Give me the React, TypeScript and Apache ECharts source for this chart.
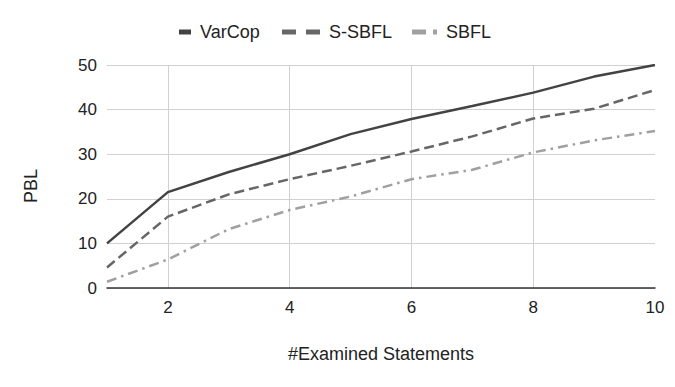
import React, { useEffect, useRef } from "react";
import * as echarts from "echarts";

const categories = ["1", "2", "3", "4", "5", "6", "7", "8", "9", "10"];
const varCop = [10, 21.5, 26, 30, 34.5, 37.9, 40.8, 43.8, 47.4, 50];
const sSbfl = [4.6, 16, 21, 24.4, 27.4, 30.6, 34, 38, 40.2, 44.4];
const sbfl = [1.4, 6.4, 13.2, 17.5, 20.5, 24.4, 26.5, 30.4, 33.1, 35.2];
const yTicks = { min: 0, max: 50, interval: 10 };

const FONT = "'Liberation Sans', Arial, sans-serif";
const C1 = "#434343";
const C2 = "#666666";
const C3 = "#a0a0a0";

export default function App() {
  const ref = useRef<HTMLDivElement>(null);
  useEffect(() => {
    if (!ref.current) return;
    const chart = echarts.init(ref.current, null, { renderer: "svg" });
    const legendText = { fontFamily: FONT, fontSize: 18, color: "#222", padding: [0, 0, 0, 4] };
    const legendBase = {
      top: 23, itemHeight: 5, padding: 0,
      symbolKeepAspect: false, selectedMode: false, textStyle: legendText,
    };
    chart.setOption({
      animation: false,
      backgroundColor: "#ffffff",
      textStyle: { fontFamily: FONT },
      legend: [
        {
          ...legendBase,
          data: [{ name: "VarCop", icon: "path://M0,0H12V5H0Z" }],
          left: 179, itemWidth: 12,
        },
        {
          ...legendBase,
          data: [{ name: "S-SBFL", icon: "path://M0,0H14V5H0Z M24,0H38V5H24Z" }],
          left: 282, itemWidth: 38,
        },
        {
          ...legendBase,
          data: [{ name: "SBFL", icon: "path://M0,0H14V5H0Z M21,0H25V5H21Z" }],
          left: 412, itemWidth: 25,
        },
      ],
      grid: { left: 107, right: 20, top: 65, bottom: 99, containLabel: false },
      xAxis: {
        type: "category",
        data: categories,
        boundaryGap: false,
        name: "#Examined Statements",
        nameLocation: "middle",
        nameGap: 57,
        nameTextStyle: { fontFamily: FONT, fontSize: 18, color: "#222" },
        axisLine: { show: true, lineStyle: { color: "#333", width: 1.5 } },
        axisTick: { show: false },
        axisLabel: {
          interval: (i: number) => i % 2 === 1,
          margin: 11,
          fontFamily: FONT,
          fontSize: 17,
          color: "#222",
        },
        splitLine: {
          show: true,
          interval: (i: number) => i % 2 === 1 && i < 9,
          lineStyle: { color: "#d0d0d0", width: 1 },
        },
      },
      yAxis: {
        type: "value",
        min: yTicks.min,
        max: yTicks.max,
        interval: yTicks.interval,
        name: "PBL",
        nameLocation: "middle",
        nameGap: 67,
        nameTextStyle: { fontFamily: FONT, fontSize: 18, color: "#222", padding: [0, 19, 0, 0] },
        axisLine: { show: false },
        axisTick: { show: false },
        axisLabel: { margin: 10, fontFamily: FONT, fontSize: 17, color: "#222" },
        splitLine: { show: true, lineStyle: { color: "#d0d0d0", width: 1 } },
      },
      series: [
        {
          name: "VarCop", type: "line", data: varCop, showSymbol: false, symbol: "none",
          color: C1, lineStyle: { color: C1, width: 2.5, type: "solid" }, z: 5,
        },
        {
          name: "S-SBFL", type: "line", data: sSbfl, showSymbol: false, symbol: "none",
          color: C2, lineStyle: { color: C2, width: 2.5, type: [10, 5] }, z: 4,
        },
        {
          name: "SBFL", type: "line", data: sbfl, showSymbol: false, symbol: "none",
          color: C3, lineStyle: { color: C3, width: 2.5, type: [10, 5, 2.5, 5] }, z: 3,
        },
      ],
    });
    return () => chart.dispose();
  }, []);
  return (
    <div
      ref={ref}
      style={{ position: "fixed", left: 0, top: 0, width: 675, height: 387 }}
    />
  );
}
